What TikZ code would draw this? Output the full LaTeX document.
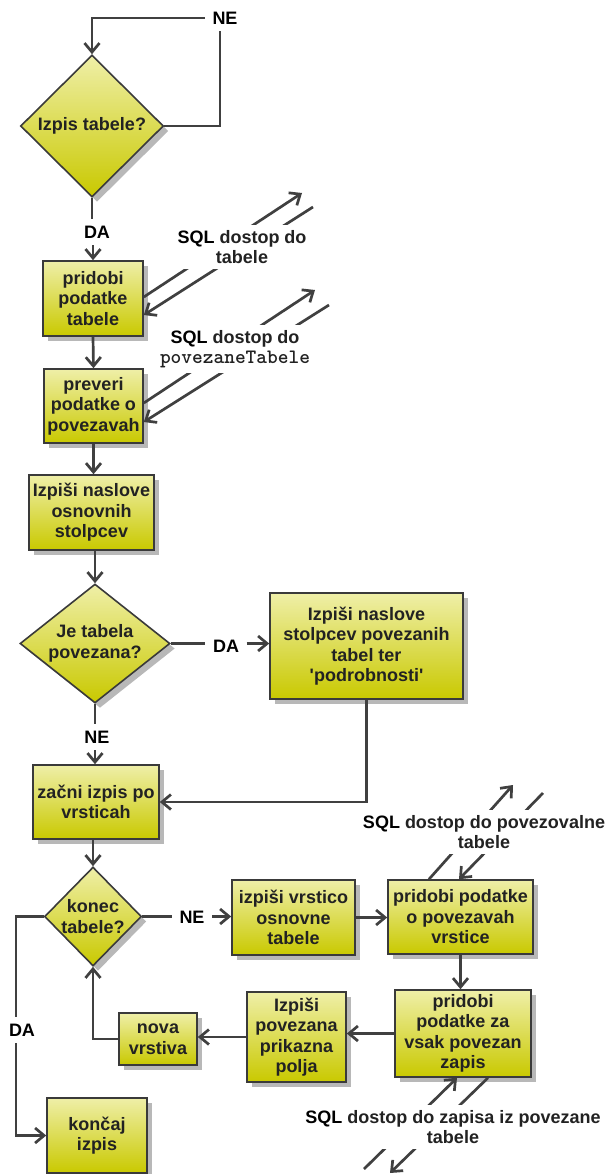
\documentclass[tikz,border=0pt]{standalone}
\usepackage{fontspec}
\setmainfont{Liberation Sans}[Ligatures=TeXOff]
\usetikzlibrary{shapes.geometric,arrows.meta,shadows,calc}
\definecolor{boxtop}{HTML}{EFEFA8}
\definecolor{boxbot}{HTML}{C9C900}
\definecolor{edgec}{HTML}{3A3A3A}
\definecolor{linec}{HTML}{404040}
\definecolor{txtc}{HTML}{222222}
\begin{document}
\begin{tikzpicture}[x=1pt,y=-1pt,
  font=\fontsize{18}{20.5}\selectfont\bfseries,
  shadowed/.style={drop shadow={shadow xshift=5pt,shadow yshift=-5pt,fill=black!28,opacity=1}},
  box/.style={rectangle,draw=edgec,line width=1.6pt,top color=boxtop,bottom color=boxbot,shadowed,align=center,inner sep=0pt,text=txtc},
  dia/.style={diamond,draw=edgec,line width=1.6pt,top color=boxtop,bottom color=boxbot,shadowed,inner sep=0pt},
  diatxt/.style={align=center,inner sep=0pt,text=txtc},
  lbl/.style={fill=white,inner xsep=7.5pt,inner ysep=7pt,text=black},
  sql/.style={fill=white,align=center,inner xsep=2pt,inner ysep=5pt,text=txtc},
  conn/.style={draw=linec,line width=2.7pt},
  arr/.style={conn,-{Straight Barb[length=9pt,width=15pt]}},
]
\useasboundingbox (0,0) rectangle (609,1174);

% nodes
\node[dia,minimum width=143,minimum height=142] (d1) at (92,126) {};
\node[diatxt] (d1t) at (d1) {Izpis tabele?};
\node[box,minimum width=100,minimum height=75] (b1) at (93,298.5) {pridobi\\podatke\\tabele};
\node[box,minimum width=99,minimum height=74] (b2) at (93.5,406) {preveri\\podatke o\\povezavah};
\node[box,minimum width=125,minimum height=75] (b3) at (91.5,512.5) {Izpiši naslove\\osnovnih\\stolpcev};
\node[dia,minimum width=150,minimum height=119] (d2) at (95,643.5) {};
\node[diatxt] (d2t) at (d2) {Je tabela\\povezana?};
\node[box,minimum width=193,minimum height=106] (b4) at (366.5,646) {Izpiši naslove\\stolpcev povezanih\\tabel ter\\'podrobnosti'};
\node[box,minimum width=126,minimum height=74] (b5) at (96,802) {začni izpis po\\vrsticah};
\node[dia,minimum width=97,minimum height=99] (d3) at (93,916.5) {};
\node[diatxt] (d3t) at (d3) {konec\\tabele?};
\node[box,minimum width=123,minimum height=75] (b6) at (293.5,917.5) {izpiši vrstico\\osnovne\\tabele};
\node[box,minimum width=145,minimum height=74] (b7) at (460.5,917) {pridobi podatke\\o povezavah\\vrstice};
\node[box,minimum width=136,minimum height=87] (b8) at (463,1033.5) {pridobi\\podatke za\\vsak povezan\\zapis};
\node[box,minimum width=99,minimum height=90] (b9) at (296.5,1037) {Izpiši\\povezana\\prikazna\\polja};
\node[box,minimum width=78,minimum height=52] (b10) at (158,1039) {nova\\vrstiva};
\node[box,minimum width=100,minimum height=75] (b11) at (97,1135.5) {končaj\\izpis};

% labels
\node[lbl] (ne1) at (225,18) {NE};
\node[lbl] (da1) at (97,232) {DA};
\node[lbl] (da2) at (226,646) {DA};
\node[lbl] (ne2) at (97,737) {NE};
\node[lbl] (ne3) at (192,917) {NE};
\node[lbl] (da3) at (22,1030) {DA};
\coordinate (c1) at (220,126);
\coordinate (c3) at (16,916.5);

% connectors
\draw[conn] (d1.east) -- (c1) -- (c1 |- ne1.south);
\draw[arr] (ne1.west) -| (d1.north);
\draw[conn] (d1.south) -- (d1.south |- da1.north);
\draw[arr] (b1.north |- da1.south) -- (b1.north);
\draw[arr] (b1.south) -- (b2.north);
\draw[arr] (b2.south) -- (b2.south |- b3.north);
\draw[arr] (d2.north |- b3.south) -- (d2.north);
\draw[conn] (d2.east) -- (d2.east -| da2.west);
\draw[arr] (da2.east |- d2.east) -- (b4.west |- d2.east);
\draw[conn] (d2.south) -- (d2.south |- ne2.north);
\draw[arr] (d2.south |- ne2.south) -- (d2.south |- b5.north);
\draw[arr] (b4.south) |- (b5.east);
\draw[arr] (d3.north |- b5.south) -- (d3.north);
\draw[conn] (d3.east) -- (d3.east -| ne3.west);
\draw[arr] (ne3.east |- d3.east) -- (b6.west |- d3.east);
\draw[arr] (b6.east) -- (b7.west |- b6.east);
\draw[arr] (b7.south) -- (b7.south |- b8.north);
\draw[arr] (b8.west) -- (b8.west -| b9.east);
\draw[arr] (b9.west) -- (b9.west -| b10.east);
\draw[arr] (b10.west) -| (d3.south);
\draw[conn] (d3.west) -- (c3) -- (c3 |- da3.north);
\draw[arr] (c3 |- da3.south) |- (b11.west);

% SQL access arrows
\coordinate (p1a) at (302,193);
\coordinate (p1b) at (313,207);
\draw[arr] ([yshift=1.5pt]b1.east) -- (p1a);
\draw[arr] (p1b) -- ([yshift=-16.5pt]b1.east);
\coordinate (p2a) at (315,290);
\coordinate (p2b) at (329,305);
\draw[arr] ([yshift=3pt]b2.east) -- (p2a);
\draw[arr] (p2b) -- ([yshift=-16pt]b2.east);
\coordinate (p3a) at (513,785);
\coordinate (p3b) at (543,793);
\draw[arr] ([xshift=-31.5pt]b7.north) -- (p3a);
\draw[arr] (p3b) -- ([xshift=-1.5pt]b7.north);
\coordinate (p4a) at (364,1169);
\coordinate (p4b) at (390,1173);
\draw[arr] (p4a) -- ([xshift=-6pt]b8.south);
\draw[arr] ([xshift=25pt]b8.south) -- (p4b);

\node[sql] (t1) at (242,247) {\textcolor{black}{SQL} dostop do\\tabele};
\node[sql] (t2) at (235,349) {\textcolor{black}{SQL} dostop do\\{\fontsize{20.4}{20.5}\selectfont\ttfamily\bfseries povezaneTabele}};
\node[sql] (t3) at (484,832) {\textcolor{black}{SQL} dostop do povezovalne\\tabele};
\node[sql] (t4) at (453,1127) {\textcolor{black}{SQL} dostop do zapisa iz povezane\\tabele};
\end{tikzpicture}
\end{document}
